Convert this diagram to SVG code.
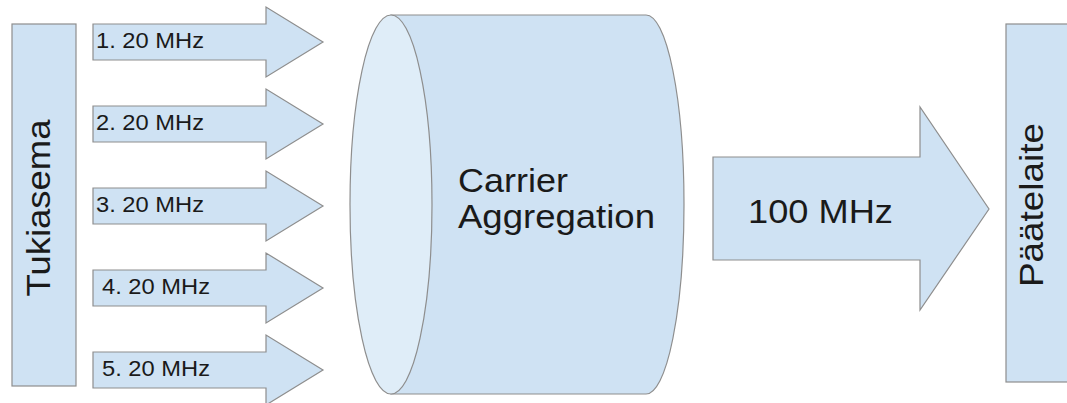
<svg xmlns="http://www.w3.org/2000/svg" width="1067" height="403" viewBox="0 0 1067 403">
  <style>
    .shape { fill: #cfe2f3; stroke: #8e8e8e; stroke-width: 1.2; }
    .face { fill: #dfedf8; stroke: #8e8e8e; stroke-width: 1.2; }
    .lbl { font-family: "Liberation Sans", Arial, sans-serif; fill: #1a1a1a; }
    .small { font-size: 22px; }
    .big { font-size: 34px; }
  </style>
  <rect width="1067" height="403" fill="#ffffff"/>

  <!-- base station -->
  <g id="tukiasema">
    <rect class="shape" x="12" y="24" width="64" height="362"/>
    <text class="lbl big" transform="translate(50,208) rotate(-90)" text-anchor="middle" textLength="177" lengthAdjust="spacingAndGlyphs">Tukiasema</text>
  </g>

  <!-- five 20 MHz component carriers -->
  <g id="connectors">
    <g id="carrier-1">
      <path class="shape" d="M93,24 H266 V7 L323,42 L266,77 V60 H93 Z"/>
      <text class="lbl small" x="96" y="48" textLength="108" lengthAdjust="spacingAndGlyphs">1. 20 MHz</text>
    </g>
    <g id="carrier-2">
      <path class="shape" d="M93,106 H266 V89 L323,124 L266,159 V142 H93 Z"/>
      <text class="lbl small" x="96" y="130" textLength="108" lengthAdjust="spacingAndGlyphs">2. 20 MHz</text>
    </g>
    <g id="carrier-3">
      <path class="shape" d="M93,188 H266 V171 L323,206 L266,241 V224 H93 Z"/>
      <text class="lbl small" x="96" y="212" textLength="108" lengthAdjust="spacingAndGlyphs">3. 20 MHz</text>
    </g>
    <g id="carrier-4">
      <path class="shape" d="M93,270 H266 V253 L323,288 L266,323 V306 H93 Z"/>
      <text class="lbl small" x="102" y="294" textLength="108" lengthAdjust="spacingAndGlyphs">4. 20 MHz</text>
    </g>
    <g id="carrier-5">
      <path class="shape" d="M93,352 H266 V335 L323,370 L266,405 V388 H93 Z"/>
      <text class="lbl small" x="102" y="376" textLength="108" lengthAdjust="spacingAndGlyphs">5. 20 MHz</text>
    </g>
    <!-- aggregated output -->
    <g id="aggregate-100">
      <path class="shape" d="M713,157 H920 V107 L989,209 L920,310 V260 H713 Z"/>
      <text class="lbl big" x="748" y="223" textLength="145" lengthAdjust="spacingAndGlyphs">100 MHz</text>
    </g>
  </g>

  <!-- carrier aggregation cylinder -->
  <g id="carrier-aggregation">
    <path class="shape" d="M391,15 H646 A38,189.5 0 0 1 646,394 H391 Z"/>
    <ellipse class="face" cx="391" cy="204.5" rx="41" ry="189.5"/>
    <text class="lbl big" x="458" y="192" textLength="110" lengthAdjust="spacingAndGlyphs">Carrier</text>
    <text class="lbl big" x="458" y="228" textLength="197" lengthAdjust="spacingAndGlyphs">Aggregation</text>
  </g>

  <!-- terminal device -->
  <g id="paatelaite">
    <rect class="shape" x="1006" y="24" width="70" height="358"/>
    <text class="lbl big" transform="translate(1043,205) rotate(-90)" text-anchor="middle" textLength="164" lengthAdjust="spacingAndGlyphs">Päätelaite</text>
  </g>
</svg>
